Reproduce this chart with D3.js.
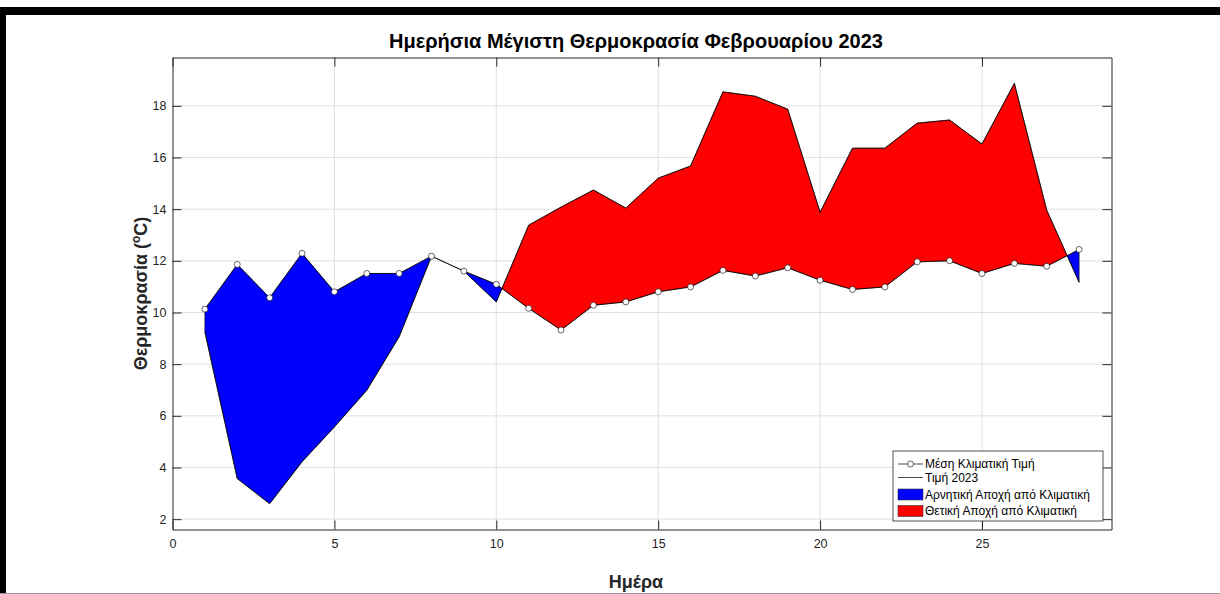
<!DOCTYPE html>
<html>
<head>
<meta charset="utf-8">
<script src="https://cdn.jsdelivr.net/npm/d3@7"></script>
<style>
  body { margin: 0; background: #fff; }
  svg text { font-family: "Liberation Sans", Arial, Helvetica, sans-serif; }
</style>
</head>
<body>
<svg id="chart" width="1220" height="594"></svg>
<script>
// data
var days = [1, 2, 3, 4, 5, 6, 7, 8, 9, 10, 11, 12, 13, 14,
            15, 16, 17, 18, 19, 20, 21, 22, 23, 24, 25, 26, 27, 28];

var climate_mean = [10.13, 11.86, 10.57, 12.29, 10.80, 11.51, 11.51, 12.18, 11.60, 11.09,
                    10.16, 9.32, 10.28, 10.41, 10.80, 10.99, 11.63, 11.41, 11.73, 11.25,
                    10.89, 10.99, 11.96, 12.00, 11.51, 11.90, 11.79, 12.44];

var temp_2023 = [9.25, 3.57, 2.60, 4.22, 5.57, 6.99, 9.06, 12.18, 11.60, 10.41,
                 13.38, 14.08, 14.74, 14.04, 15.20, 15.67, 18.54, 18.37, 17.87, 13.88,
                 16.36, 16.36, 17.33, 17.45, 16.52, 18.87, 13.96, 11.17];

var x_ticks = [0, 5, 10, 15, 20, 25];
var y_ticks = [2, 4, 6, 8, 10, 12, 14, 16, 18];

var legend_labels = ['Μέση Κλιματική Τιμή', 'Τιμή 2023',
                     'Αρνητική Αποχή από Κλιματική', 'Θετική Αποχή από Κλιματική'];

var neg_color = '#0000ff';
var pos_color = '#ff0000';
var axis_color = '#262626';
var grid_color = '#e0e0e0';

var svg = d3.select('#chart');

// figure frame
svg.append('rect').attr('x', 0).attr('y', 7).attr('width', 1220).attr('height', 8).style('fill', '#000');
svg.append('rect').attr('x', 0).attr('y', 7).attr('width', 6).attr('height', 587).style('fill', '#000');
svg.append('line').attr('x1', 0).attr('x2', 1220).attr('y1', 593.5).attr('y2', 593.5)
  .style('stroke', '#9a9a9a').style('stroke-width', 1);

var box = { left: 172.5, top: 57.5, right: 1111.5, bottom: 529.5 };
var width = box.right - box.left;
var height = box.bottom - box.top;

var y_min = d3.min(temp_2023.concat(climate_mean)) - 1;
var y_max = d3.max(temp_2023.concat(climate_mean)) + 1;

var x = d3.scaleLinear()
  .domain([days[0] - 1, days[days.length - 1] + 1])
  .range([0, width]);

var y = d3.scaleLinear()
  .domain([y_min, y_max])
  .range([height, 0]);

var gph = svg.append('g')
  .attr('transform', `translate(${box.left},${box.top})`);

// grid
gph.append('g').attr('class', 'grid')
  .selectAll('line.gx')
  .data(x_ticks.filter((d) => d > 0)).enter()
  .append('line')
  .attr('x1', (d) => x(d)).attr('x2', (d) => x(d))
  .attr('y1', 0).attr('y2', height)
  .style('stroke', grid_color).style('stroke-width', 1);

gph.append('g').attr('class', 'grid')
  .selectAll('line.gy')
  .data(y_ticks).enter()
  .append('line')
  .attr('x1', 0).attr('x2', width)
  .attr('y1', (d) => y(d)).attr('y2', (d) => y(d))
  .style('stroke', grid_color).style('stroke-width', 1);

// split the gap between the curves into runs of one sign
var pts = [];
days.forEach((d, i) => {
  var p = { t: d, a: climate_mean[i], b: temp_2023[i], diff: temp_2023[i] - climate_mean[i] };
  if (i > 0) {
    var q = pts[pts.length - 1];
    if (q.diff * p.diff < 0) {
      var f = q.diff / (q.diff - p.diff);
      var t = q.t + f * (p.t - q.t);
      var v = q.a + f * (p.a - q.a);
      pts.push({ t: t, a: v, b: v, diff: 0 });
    }
  }
  pts.push(p);
});

var runs = [];
var cur = null;
for (var i = 1; i < pts.length; i++) {
  var s = Math.sign(pts[i - 1].diff + pts[i].diff);
  if (s === 0) { cur = null; continue; }
  if (!cur || cur.sign !== s) {
    cur = { sign: s, points: [pts[i - 1]] };
    runs.push(cur);
  }
  cur.points.push(pts[i]);
}

var poly = (r) => {
  var top = r.points.map((p) => [x(p.t), y(p.b)]);
  var bot = r.points.slice().reverse().map((p) => [x(p.t), y(p.a)]);
  return 'M' + top.concat(bot).map((c) => c.join(',')).join('L') + 'Z';
};

gph.selectAll('path.gap')
  .data(runs).enter()
  .append('path')
  .attr('class', 'gap')
  .attr('d', poly)
  .style('fill', (d) => d.sign > 0 ? pos_color : neg_color)
  .style('stroke', '#000')
  .style('stroke-width', 0.6)
  .style('stroke-linejoin', 'miter');

var line_mean = d3.line()
  .x((d, i) => x(days[i]))
  .y((d) => y(d));

gph.append('path')
  .attr('d', line_mean(temp_2023))
  .style('fill', 'none').style('stroke', '#000').style('stroke-width', 0.7);

gph.append('path')
  .attr('d', line_mean(climate_mean))
  .style('fill', 'none').style('stroke', '#000').style('stroke-width', 0.7);

gph.selectAll('circle.mk')
  .data(climate_mean).enter()
  .append('circle')
  .attr('class', 'mk')
  .attr('cx', (d, i) => x(days[i]))
  .attr('cy', (d) => y(d))
  .attr('r', 3)
  .style('fill', '#fff').style('stroke', '#000').style('stroke-width', 0.6);

// axes, ticks pointing inwards on all four sides
var style_axis = (g, labels) => {
  g.select('.domain').style('stroke', axis_color).style('stroke-width', 1);
  g.selectAll('.tick line').style('stroke', axis_color).style('stroke-width', 1);
  g.selectAll('.tick text')
    .style('fill', axis_color)
    .style('font-size', '12.5px')
    .style('display', labels ? null : 'none');
};

gph.append('g')
  .attr('transform', `translate(0,${height})`)
  .call(d3.axisBottom(x).tickValues(x_ticks).tickSize(-9).tickSizeOuter(0).tickPadding(10))
  .call((g) => style_axis(g, true));

gph.append('g')
  .call(d3.axisTop(x).tickValues(x_ticks).tickSize(-9).tickSizeOuter(0))
  .call((g) => style_axis(g, false));

gph.append('g')
  .call(d3.axisLeft(y).tickValues(y_ticks).tickSize(-9).tickSizeOuter(0).tickPadding(6))
  .call((g) => style_axis(g, true));

gph.append('g')
  .attr('transform', `translate(${width},0)`)
  .call(d3.axisRight(y).tickValues(y_ticks).tickSize(-9).tickSizeOuter(0))
  .call((g) => style_axis(g, false));

// titles
svg.append('text')
  .attr('x', 636).attr('y', 48)
  .attr('text-anchor', 'middle')
  .style('font-size', '20px').style('font-weight', 'bold').style('fill', '#000')
  .text('Ημερήσια Μέγιστη Θερμοκρασία Φεβρουαρίου 2023');

svg.append('text')
  .attr('x', 636).attr('y', 588)
  .attr('text-anchor', 'middle')
  .style('font-size', '18px').style('font-weight', 'bold').style('fill', axis_color)
  .text('Ημέρα');

var ylab = svg.append('text')
  .attr('transform', `translate(147,${(box.top + box.bottom) / 2}) rotate(-90)`)
  .attr('text-anchor', 'middle')
  .style('font-size', '18px').style('font-weight', 'bold').style('fill', axis_color);
ylab.append('tspan').text('Θερμοκρασία (');
ylab.append('tspan').attr('dy', -7).style('font-size', '12px').text('o');
ylab.append('tspan').attr('dy', 7).text('C)');

// legend
var lg = svg.append('g').attr('transform', 'translate(893,451)');
lg.append('rect')
  .attr('width', 210).attr('height', 70)
  .style('fill', '#fff').style('stroke', axis_color).style('stroke-width', 0.8);

var rows = [13, 26.5, 43.5, 60];
lg.selectAll('text.lab')
  .data(legend_labels).enter()
  .append('text')
  .attr('class', 'lab')
  .attr('x', 32).attr('y', (d, i) => rows[i])
  .attr('dy', '0.35em')
  .style('font-size', '12px').style('fill', '#000')
  .text((d) => d);

[0, 1].forEach((i) => {
  lg.append('line')
    .attr('x1', 5).attr('x2', 30).attr('y1', rows[i]).attr('y2', rows[i])
    .style('stroke', '#000').style('stroke-width', 0.7);
});
lg.append('circle')
  .attr('cx', 17.5).attr('cy', rows[0]).attr('r', 3)
  .style('fill', '#fff').style('stroke', '#000').style('stroke-width', 0.6);

[neg_color, pos_color].forEach((c, i) => {
  lg.append('rect')
    .attr('x', 5).attr('y', rows[i + 2] - 5.5)
    .attr('width', 25).attr('height', 11)
    .style('fill', c).style('stroke', '#333').style('stroke-width', 0.6);
});
</script>
</body>
</html>
